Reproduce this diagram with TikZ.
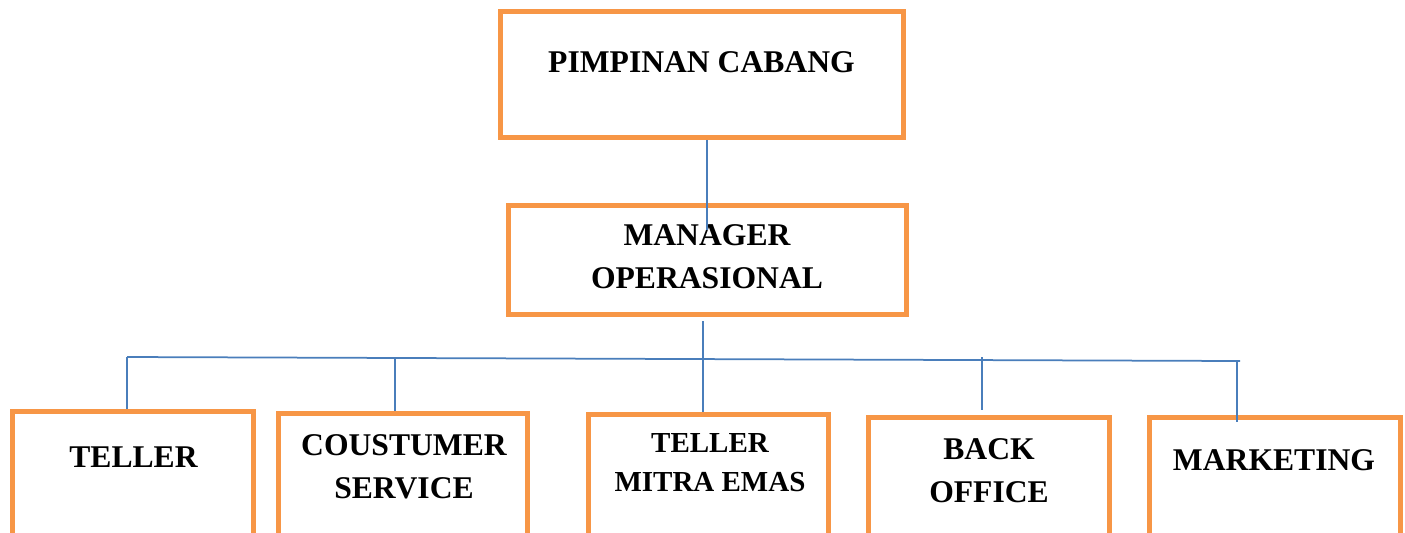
\documentclass[tikz,border=0pt]{standalone}
\usepackage{fontspec}
\setmainfont{Liberation Serif}
\usetikzlibrary{positioning}
\definecolor{oranye}{HTML}{F79646}
\definecolor{biru}{HTML}{4A7EBB}

\begin{document}
\begin{tikzpicture}[x=0.02cm, y=-0.02cm,
  kotak/.style={draw=oranye, line width=0.1cm, rectangle, anchor=north west, minimum height=3cm},
  teks/.style={inner sep=0pt, align=center, font=\fontsize{18}{24.4}\selectfont\bfseries},
  garis/.style={draw=biru, line width=0.035cm}]
\useasboundingbox (0,0) rectangle (1405,532);
\clip (0,0) rectangle (1405,532);

% kotak atas
\node[kotak, minimum width=8.06cm, minimum height=2.52cm] (pimpinan) at (498,9) {};
\node[kotak, minimum width=7.96cm, minimum height=2.18cm] (manager) at (506,203) {};

% kotak bawah
\node[kotak, minimum width=4.82cm] (teller) at (10,409) {};
\node[kotak, minimum width=4.98cm] (cs) at (276,411) {};
\node[kotak, minimum width=4.80cm] (tme) at (586,412) {};
\node[kotak, minimum width=4.82cm] (bo) at (866,415) {};
\node[kotak, minimum width=5.02cm] (mkt) at (1147,415) {};

% teks
\node[teks] (tpimpinan) at (701.5,62) {PIMPINAN CABANG};
\node[teks] (tmanager) at (707,256.5) {MANAGER\\OPERASIONAL};
\node[teks] (tteller) at (133.5,457) {TELLER};
\node[teks] (tcs) at (404,467) {COUSTUMER\\SERVICE};
\node[teks, font=\fontsize{16.5}{22}\selectfont\bfseries] (ttme) at (710,462.5) {TELLER\\MITRA EMAS};
\node[teks] (tbo) at (989,471) {BACK\\OFFICE};
\node[teks] (tmkt) at (1274,460) {MARKETING};

% titik garis
\coordinate (ujung manager) at (707,230);
\coordinate (bus kiri) at (127,357);
\coordinate (bus kanan) at (1240,361);
\coordinate (atas cs) at (395,358);
\coordinate (atas tme) at (703,321);
\coordinate (atas bo) at (982,357);
\coordinate (bawah bo) at (982,410);
\coordinate (atas mkt) at (1237,362);
\coordinate (bawah mkt) at (1237,422);

% garis
\draw[garis] (pimpinan.south -| ujung manager) -- (ujung manager);
\draw[garis] (bus kiri) -- (bus kanan);
\draw[garis] (atas tme) -- (tme.north -| atas tme);
\draw[garis] (bus kiri) -- (teller.north -| bus kiri);
\draw[garis] (atas cs) -- (cs.north -| atas cs);
\draw[garis] (atas bo) -- (bawah bo);
\draw[garis] (atas mkt) -- (bawah mkt);
\end{tikzpicture}
\end{document}
